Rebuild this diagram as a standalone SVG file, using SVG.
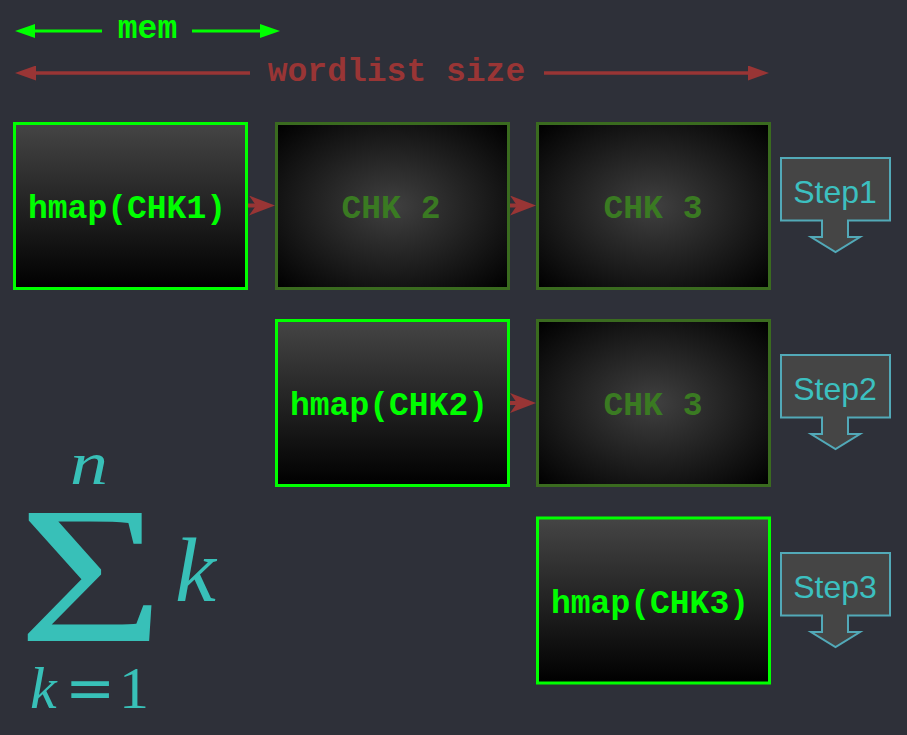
<svg xmlns="http://www.w3.org/2000/svg" width="907" height="735" viewBox="0 0 907 735">
<defs>
<style>
.mono{font-family:"Liberation Mono","Courier New",monospace;font-weight:bold;font-size:33px;text-anchor:middle}
.hm{fill:url(#lg);stroke:#00ff00;stroke-width:3}
.ck{fill:url(#rg);stroke:#3a6b1f;stroke-width:3}
.hmt{fill:#00ff00}
.ckt{fill:#3a7a22}
.step{fill:#454545;stroke:#52a9b8;stroke-width:2}
.stept{font-family:"Liberation Sans",Arial,sans-serif;font-size:32px;fill:#3cc0c0;text-anchor:middle}
.math{font-family:"Liberation Serif","Times New Roman",serif;fill:#38c0b8}
</style>
<linearGradient id="lg" x1="0" y1="0" x2="0" y2="1">
<stop offset="0" stop-color="#454545"/>
<stop offset="1" stop-color="#000000"/>
</linearGradient>
<radialGradient id="rg" cx="0.5" cy="0.5" r="0.7">
<stop offset="0" stop-color="#404040"/>
<stop offset="1" stop-color="#000000"/>
</radialGradient>
<marker id="tg" viewBox="0 0 20 14" refX="0" refY="7" markerWidth="20" markerHeight="14" markerUnits="userSpaceOnUse" orient="auto">
<path d="M0,0 L20,7 L0,14 Z" fill="#00ff00"/>
</marker>
<marker id="tr" viewBox="0 0 21 15" refX="0" refY="7.5" markerWidth="21" markerHeight="15" markerUnits="userSpaceOnUse" orient="auto">
<path d="M0,0 L21,7.5 L0,15 Z" fill="#993535"/>
</marker>
<marker id="ah" viewBox="0 0 26 20" refX="7" refY="10" markerWidth="26" markerHeight="20" markerUnits="userSpaceOnUse" orient="auto">
<path d="M0,0 L26,10 L0,20 L7,10 Z" fill="#993535"/>
</marker>
<path id="stepshape" d="M781,158 H890 V220.5 H848 V237 H860 L835.5,252 L811,237 H822 V220.5 H781 Z"/>
</defs>
<rect width="907" height="735" fill="#2e3039"/>

<g id="measures">
<line x1="102" y1="31" x2="35" y2="31" stroke="#00ff00" stroke-width="3" marker-end="url(#tg)"/>
<line x1="192" y1="31" x2="260" y2="31" stroke="#00ff00" stroke-width="3" marker-end="url(#tg)"/>
<text x="147.5" y="37.5" class="mono" fill="#00ff00">mem</text>
<line x1="250" y1="73" x2="36" y2="73" stroke="#993535" stroke-width="3.5" marker-end="url(#tr)"/>
<line x1="544" y1="73" x2="748" y2="73" stroke="#993535" stroke-width="3.5" marker-end="url(#tr)"/>
<text x="396.5" y="81" class="mono" fill="#993535">wordlist size</text>
</g>

<g id="connectors">
<line x1="247" y1="205.5" x2="256" y2="205.5" stroke="#993535" stroke-width="4" marker-end="url(#ah)"/>
<line x1="509" y1="205.5" x2="517" y2="205.5" stroke="#993535" stroke-width="4" marker-end="url(#ah)"/>
<line x1="509" y1="403" x2="517" y2="403" stroke="#993535" stroke-width="4" marker-end="url(#ah)"/>
</g>

<g id="hmap1">
<rect class="hm" x="14.5" y="123.5" width="232" height="165"/>
<text class="mono hmt" x="127" y="217.5">hmap(CHK1)</text>
</g>
<g id="chk2-r1">
<rect class="ck" x="276.5" y="123.5" width="232" height="165"/>
<text class="mono ckt" x="391" y="218">CHK 2</text>
</g>
<g id="chk3-r1">
<rect class="ck" x="537.5" y="123.5" width="232" height="165"/>
<text class="mono ckt" x="653" y="218">CHK 3</text>
</g>
<g id="hmap2">
<rect class="hm" x="276.5" y="320.5" width="232" height="165"/>
<text class="mono hmt" x="389" y="415">hmap(CHK2)</text>
</g>
<g id="chk3-r2">
<rect class="ck" x="537.5" y="320.5" width="232" height="165"/>
<text class="mono ckt" x="653" y="415">CHK 3</text>
</g>
<g id="hmap3">
<rect class="hm" x="537.5" y="518" width="232" height="165"/>
<text class="mono hmt" x="650" y="612.5">hmap(CHK3)</text>
</g>

<g id="step1">
<use href="#stepshape" class="step"/>
<text class="stept" x="835" y="203">Step1</text>
</g>
<g id="step2">
<use href="#stepshape" class="step" transform="translate(0,197)"/>
<text class="stept" x="835" y="400">Step2</text>
</g>
<g id="step3">
<use href="#stepshape" class="step" transform="translate(0,395)"/>
<text class="stept" x="835" y="598">Step3</text>
</g>

<g id="formula" class="math">
<text x="89" y="484" font-size="62" font-style="italic" text-anchor="middle" textLength="38" lengthAdjust="spacingAndGlyphs">n</text>
<text x="18" y="641" font-size="196" textLength="146" lengthAdjust="spacingAndGlyphs">Σ</text>
<text x="175" y="601" font-size="92" font-style="italic">k</text>
<text y="708" font-size="60"><tspan x="30" font-style="italic">k</tspan><tspan x="65" font-family="DejaVu Serif">=</tspan><tspan x="119">1</tspan></text>
</g>
</svg>
